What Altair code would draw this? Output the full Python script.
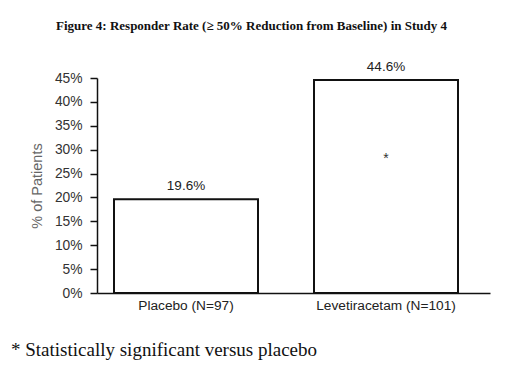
import altair as alt
import pandas as pd

groups = ["Placebo (N=97)", "Levetiracetam (N=101)"]
rates = [19.6, 44.6]
labels = ["19.6%", "44.6%"]
marks = ["", "*"]
mark_pos = [None, 28.0]
y_ticks = [0, 5, 10, 15, 20, 25, 30, 35, 40, 45]

df = pd.DataFrame({"group": groups, "rate": rates, "label": labels,
                   "mark": marks, "mark_pos": mark_pos})

x_axis = alt.Axis(ticks=False, labelAngle=0, labelFont="Liberation Sans",
                  labelFontSize=13.7, labelColor="#222", labelPadding=5,
                  domainColor="#111", domainWidth=1.5)
x_scale = alt.Scale(paddingInner=0.28, paddingOuter=0.1225, align=0.347)
y_axis = alt.Axis(values=y_ticks, labelExpr="datum.value + '%'",
                  labelOverlap=False,
                  grid=False, tickSize=7, tickColor="#111", tickWidth=1.5,
                  domainColor="#111", domainWidth=1.5,
                  labelFont="Liberation Sans", labelFontSize=13.8,
                  labelColor="#333", labelPadding=8,
                  titleFont="Liberation Sans", titleFontSize=14.5,
                  titleFontWeight="normal", titleColor="#666",
                  titlePadding=10)
y_scale = alt.Scale(domain=[0, 45], nice=False)


def X():
    return alt.X("group:N", sort=groups, title=None, scale=x_scale, axis=x_axis)


def Y(field):
    return alt.Y(field, title="% of Patients", scale=y_scale, axis=y_axis)


base = alt.Chart(df)
bars = base.mark_bar(fill="white", stroke="#111", strokeWidth=2).encode(
    x=X(), y=Y("rate:Q"))
vals = base.mark_text(dy=-13, font="Liberation Sans", fontSize=13.5,
                      color="#222").encode(x=X(), y=Y("rate:Q"), text="label:N")
star = base.transform_filter("datum.mark != ''").mark_text(
    font="Liberation Sans", fontSize=14, color="#333").encode(
    x=X(), y=Y("mark_pos:Q"), text="mark:N")
foot = alt.Chart(pd.DataFrame({"t": ["* Statistically significant versus placebo"]})).mark_text(
    align="left", baseline="middle", font="Liberation Serif", fontSize=19,
    color="#111").encode(x=alt.value(-86), y=alt.value(272), text="t:N")

chart = alt.layer(bars, vals, star, foot).properties(
    width=393, height=215,
    title=alt.TitleParams("Figure 4: Responder Rate (≥ 50% Reduction from Baseline) in Study 4",
                          font="Liberation Serif", fontSize=13, fontWeight="bold",
                          color="#111", anchor="middle", dx=-42, offset=27),
    autosize=alt.AutoSizeParams(type="none"),
    padding={"left": 89, "top": 70, "right": 17, "bottom": 74},
    view=alt.ViewBackground(stroke=None, strokeWidth=0),
).configure_view(strokeWidth=0, stroke=None).configure(background="white")

chart.save("out.html", embed_options={"renderer": "svg", "actions": False})
